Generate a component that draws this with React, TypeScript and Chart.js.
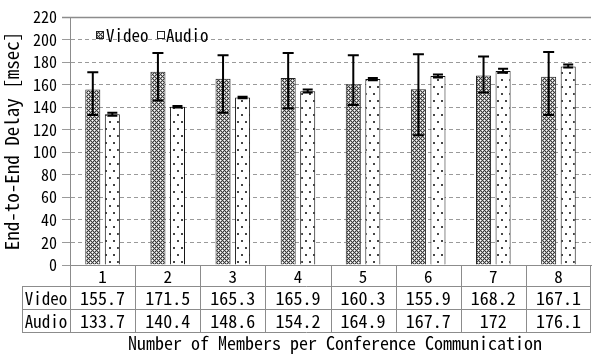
import React, { useEffect, useRef } from 'react';
import { Chart, registerables } from 'chart.js';

Chart.register(...registerables);

// Conference sizes (members per communication)
const categories = ['1', '2', '3', '4', '5', '6', '7', '8'];

// Mean end-to-end delay [msec]
const videoMean = [155.7, 171.5, 165.3, 165.9, 160.3, 155.9, 168.2, 167.1];
const audioMean = [133.7, 140.4, 148.6, 154.2, 164.9, 167.7, 172, 176.1];

// Error bar extents [msec]
const videoUpper = [171, 188, 186, 188, 186, 187, 185, 189];
const videoLower = [133, 146, 135, 139, 142, 115, 153, 133];
const audioUpper = [135, 141, 149.2, 155.6, 165.8, 169, 174, 177.8];
const audioLower = [132.3, 139.8, 148, 153, 164, 166.4, 170.6, 175.1];

// Table cell text
const videoText = ['155.7', '171.5', '165.3', '165.9', '160.3', '155.9', '168.2', '167.1'];
const audioText = ['133.7', '140.4', '148.6', '154.2', '164.9', '167.7', '172', '176.1'];

const yTicks = { min: 0, max: 220, step: 20 };

const FONT = '"Noto Sans Mono CJK JP", "Noto Sans CJK JP", "Liberation Mono", monospace';
const LINE = '#8c8c8c';

// dark cross-hatch with light holes on an offset lattice
function videoPattern(ctx: CanvasRenderingContext2D) {
  const c = document.createElement('canvas');
  c.width = 4;
  c.height = 4;
  const g = c.getContext('2d')!;
  g.fillStyle = '#3a3a3a';
  g.fillRect(0, 0, 4, 4);
  g.fillStyle = '#b4b4b4';
  const halo = [
    [1, 0], [0, 1], [3, 0], [0, 3],
    [1, 2], [3, 2], [2, 1], [2, 3],
  ];
  halo.forEach(([px, py]) => g.fillRect(px, py, 1, 1));
  g.fillStyle = '#ffffff';
  g.fillRect(0, 0, 1, 1);
  g.fillRect(2, 2, 1, 1);
  return ctx.createPattern(c, 'repeat')!;
}

// sparse dots
function audioPattern(ctx: CanvasRenderingContext2D) {
  const c = document.createElement('canvas');
  c.width = 8;
  c.height = 14;
  const g = c.getContext('2d')!;
  g.fillStyle = '#ffffff';
  g.fillRect(0, 0, 8, 14);
  g.fillStyle = '#444444';
  g.fillRect(1, 2, 2, 2);
  g.fillRect(5, 9, 2, 2);
  return ctx.createPattern(c, 'repeat')!;
}

export default function App() {
  const ref = useRef<HTMLCanvasElement>(null);

  useEffect(() => {
    const canvas = ref.current!;
    const ctx = canvas.getContext('2d')!;
    const vPat = videoPattern(ctx);
    const aPat = audioPattern(ctx);

    const overlay = {
      id: 'overlay',
      afterDraw(chart: any) {
        const c: CanvasRenderingContext2D = chart.ctx;
        const x = chart.scales.x;
        const y = chart.scales.y;
        const area = chart.chartArea;
        c.save();

        // solid top gridline
        c.strokeStyle = LINE;
        c.lineWidth = 1.5;
        c.beginPath();
        c.moveTo(area.left - 8, Math.round(y.getPixelForValue(yTicks.max)) + 0.5);
        c.lineTo(area.right, Math.round(y.getPixelForValue(yTicks.max)) + 0.5);
        c.stroke();

        // error bars
        const drawErr = (dsIndex: number, up: number[], lo: number[], cap: number) => {
          const meta = chart.getDatasetMeta(dsIndex);
          c.strokeStyle = '#000';
          c.lineWidth = 2;
          meta.data.forEach((el: any, j: number) => {
            const yt = y.getPixelForValue(up[j]);
            const yb = y.getPixelForValue(lo[j]);
            c.beginPath();
            c.moveTo(el.x, yt);
            c.lineTo(el.x, yb);
            c.moveTo(el.x - cap / 2, yt);
            c.lineTo(el.x + cap / 2, yt);
            c.moveTo(el.x - cap / 2, yb);
            c.lineTo(el.x + cap / 2, yb);
            c.stroke();
          });
        };
        drawErr(0, videoUpper, videoLower, 11);
        drawErr(1, audioUpper, audioLower, 10);

        // data table below the axis
        const n = categories.length;
        const step = (x.right - x.left) / n;
        const top = area.bottom;
        const rows = [top, top + 21, top + 44, top + 67];
        const tableLeft = 22;
        c.strokeStyle = LINE;
        c.lineWidth = 1;
        c.beginPath();
        for (let r = 1; r < rows.length; r++) {
          c.moveTo(tableLeft, Math.round(rows[r]) + 0.5);
          c.lineTo(x.right, Math.round(rows[r]) + 0.5);
        }
        c.moveTo(tableLeft + 0.5, rows[1]);
        c.lineTo(tableLeft + 0.5, rows[3]);
        for (let j = 0; j <= n; j++) {
          const bx = Math.round(x.left + j * step) + (j === n ? -0.5 : 0.5);
          c.moveTo(bx, rows[0]);
          c.lineTo(bx, rows[3]);
        }
        c.stroke();

        c.fillStyle = '#000';
        c.textAlign = 'center';
        c.textBaseline = 'middle';
        for (let j = 0; j < n; j++) {
          const cx = x.getPixelForValue(j);
          c.font = `17px ${FONT}`;
          c.fillText(categories[j], cx, (rows[0] + rows[1]) / 2 + 1);
          c.font = `18px ${FONT}`;
          c.fillText(videoText[j], cx, (rows[1] + rows[2]) / 2 + 1);
          c.fillText(audioText[j], cx, (rows[2] + rows[3]) / 2 + 1);
        }
        c.font = `17px ${FONT}`;
        const labelX = (tableLeft + x.left) / 2;
        c.fillText('Video', labelX, (rows[1] + rows[2]) / 2 + 1);
        c.fillText('Audio', labelX, (rows[2] + rows[3]) / 2 + 1);

        // axis titles
        c.font = `18px ${FONT}`;
        c.fillText('Number of Members per Conference Communication', 335, 343);
        c.save();
        c.font = `19px ${FONT}`;
        c.translate(12, (area.top + area.bottom) / 2);
        c.rotate(-Math.PI / 2);
        c.fillText('End-to-End Delay [msec]', 0, 0);
        c.restore();

        // legend
        c.font = `17px ${FONT}`;
        c.textAlign = 'left';
        const ly = 35;
        c.fillStyle = vPat;
        c.fillRect(96, ly - 4, 8, 8);
        c.strokeStyle = '#222';
        c.strokeRect(96.5, ly - 3.5, 7, 7);
        c.fillStyle = '#000';
        c.fillText('Video', 106, ly + 1);
        c.fillStyle = '#fff';
        c.fillRect(157, ly - 4, 8, 8);
        c.strokeStyle = '#222';
        c.strokeRect(157.5, ly - 3.5, 7, 7);
        c.fillStyle = '#000';
        c.fillText('Audio', 166, ly + 1);

        c.restore();
      },
    };

    const chart = new Chart(canvas, {
      type: 'bar',
      data: {
        labels: categories,
        datasets: [
          {
            label: 'Video',
            data: videoMean,
            backgroundColor: vPat,
            borderColor: '#222',
            borderWidth: 1,
            categoryPercentage: 0.6,
            barPercentage: 0.77,
          },
          {
            label: 'Audio',
            data: audioMean,
            backgroundColor: aPat,
            borderColor: '#111',
            borderWidth: 1,
            categoryPercentage: 0.6,
            barPercentage: 0.77,
          },
        ],
      },
      options: {
        responsive: false,
        animation: false,
        layout: { padding: { top: 17, right: 1, left: 0, bottom: 0 } },
        plugins: {
          legend: { display: false },
          tooltip: { enabled: false },
        },
        scales: {
          x: {
            grid: { display: false },
            border: { display: true, color: LINE },
            ticks: { display: false },
            afterFit: (s: any) => {
              s.height = 89;
            },
          },
          y: {
            min: yTicks.min,
            max: yTicks.max,
            ticks: {
              stepSize: yTicks.step,
              color: '#000',
              padding: 5,
              font: { family: FONT, size: 16 },
            },
            grid: { color: '#9a9a9a', tickLength: 8 },
            border: { display: true, color: LINE, dash: [4, 3] },
            afterFit: (s: any) => {
              s.width = 70;
            },
          },
        },
      },
      plugins: [overlay],
    });

    return () => chart.destroy();
  }, []);

  return (
    <div style={{ position: 'fixed', left: 0, top: 0, width: 592, height: 354, background: '#fff' }}>
      <canvas ref={ref} width={592} height={354} />
    </div>
  );
}
